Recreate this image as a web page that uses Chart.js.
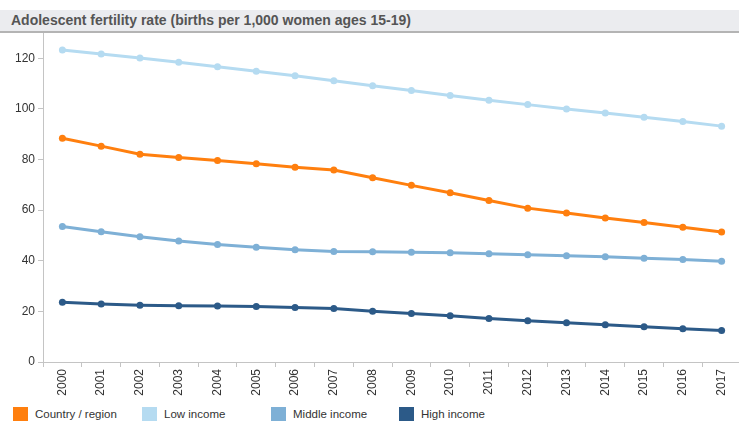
<!DOCTYPE html>
<html>
<head>
<meta charset="utf-8">
<script src="https://cdn.jsdelivr.net/npm/chart.js@4"></script>
<style>
    body { margin: 0; width: 739px; height: 421px; overflow: hidden; background: #fff; font-family: "Liberation Sans", Arial, sans-serif; position: relative; }
    #titulo { position: absolute; left: 0; top: 10px; width: 739px; height: 21px; background: #ebecef; border-bottom: 2px solid #b4b4b4; box-sizing: content-box; }
    #titulo span { position: absolute; left: 11px; top: 2px; font-size: 14px; font-weight: bold; color: #555; white-space: nowrap; }
    #caixa { position: absolute; left: 0; top: 0; width: 745px; height: 400px; }
    #legenda { position: absolute; left: 0; top: 406px; width: 739px; height: 16px; }
    .item { position: absolute; top: 0; font-size: 11.5px; color: #333; white-space: nowrap; }
    .item i { position: absolute; left: 0; top: 1px; width: 15px; height: 15px; }
    .item b { position: absolute; left: 22px; top: 2px; font-weight: normal; }
</style>
</head>
<body>
<div id="titulo"><span>Adolescent fertility rate (births per 1,000 women ages 15-19)</span></div>
<div id="caixa"><canvas id="grafico"></canvas></div>
<div id="legenda"></div>
<script>
// Dados
const anos = ['2000', '2001', '2002', '2003', '2004', '2005', '2006', '2007', '2008',
    '2009', '2010', '2011', '2012', '2013', '2014', '2015', '2016', '2017'];
const paisRegiao = [88.4, 85.3, 82.1, 80.8, 79.6, 78.3, 77.0, 75.9, 72.8,
    69.8, 66.9, 63.8, 60.8, 58.9, 56.9, 55.1, 53.2, 51.4];
const rendaBaixa = [123.3, 121.7, 120.1, 118.4, 116.7, 114.9, 113.1, 111.1, 109.2,
    107.3, 105.3, 103.4, 101.7, 100.0, 98.4, 96.7, 95.0, 93.2];
const rendaMedia = [53.5, 51.5, 49.5, 47.8, 46.4, 45.3, 44.4, 43.7, 43.6,
    43.4, 43.2, 42.8, 42.4, 42.0, 41.6, 41.0, 40.5, 39.8];
const rendaAlta = [23.6, 22.9, 22.4, 22.2, 22.1, 21.9, 21.5, 21.1, 20.1,
    19.2, 18.3, 17.2, 16.3, 15.5, 14.7, 13.9, 13.1, 12.4];
const nomesSeries = ['Country / region', 'Low income', 'Middle income', 'High income'];
const coresSeries = ['#ff7f0e', '#b5dbf1', '#7eb0d6', '#2c5a88'];
const ticksY = [0, 20, 40, 60, 80, 100, 120];

const valores = [paisRegiao, rendaBaixa, rendaMedia, rendaAlta];
const posLegenda = [13, 142, 271, 399];

function criarSerie(i) {
    return {
        label: nomesSeries[i],
        data: valores[i],
        borderColor: coresSeries[i],
        backgroundColor: coresSeries[i],
        pointBackgroundColor: coresSeries[i],
        pointBorderColor: coresSeries[i],
        borderWidth: 3,
        pointRadius: 3.5,
        pointBorderWidth: 0,
        tension: 0,
        fill: false
    };
}

// desenha de trás pra frente, país por cima
const series = [3, 2, 1, 0].map(criarSerie);

const corEixo = '#c4c4c4';
const ctx = document.getElementById('grafico').getContext('2d');
new Chart(ctx, {
    type: 'line',
    data: { labels: anos, datasets: series },
    options: {
        responsive: true,
        maintainAspectRatio: false,
        animation: false,
        layout: { padding: { top: 33, left: 0, right: 0, bottom: 0 } },
        plugins: { legend: { display: false }, tooltip: { enabled: false } },
        scales: {
            x: {
                offset: true,
                grid: { offset: true, drawOnChartArea: false, tickLength: 5, color: corEixo },
                border: { color: corEixo },
                ticks: {
                    minRotation: 90, maxRotation: 90, padding: 2, autoSkip: false,
                    color: '#333', font: { family: 'Liberation Sans', size: 12 }
                },
                afterFit: function (eixo) { eixo.height = 38; }
            },
            y: {
                min: 0,
                max: 130,
                grid: { drawOnChartArea: false, tickLength: 5, color: corEixo },
                border: { color: corEixo },
                ticks: {
                    stepSize: 20, padding: 3,
                    color: '#333', font: { family: 'Liberation Sans', size: 12 }
                },
                afterBuildTicks: function (eixo) {
                    eixo.ticks = ticksY.map(v => ({ value: v }));
                },
                afterFit: function (eixo) { eixo.width = 43; }
            }
        }
    }
});

// Legenda
const legenda = document.getElementById('legenda');
nomesSeries.forEach((nome, i) => {
    const item = document.createElement('div');
    item.className = 'item';
    item.style.left = posLegenda[i] + 'px';
    item.innerHTML = '<i style="background:' + coresSeries[i] + '"></i><b>' + nome + '</b>';
    legenda.appendChild(item);
});
</script>
</body>
</html>
